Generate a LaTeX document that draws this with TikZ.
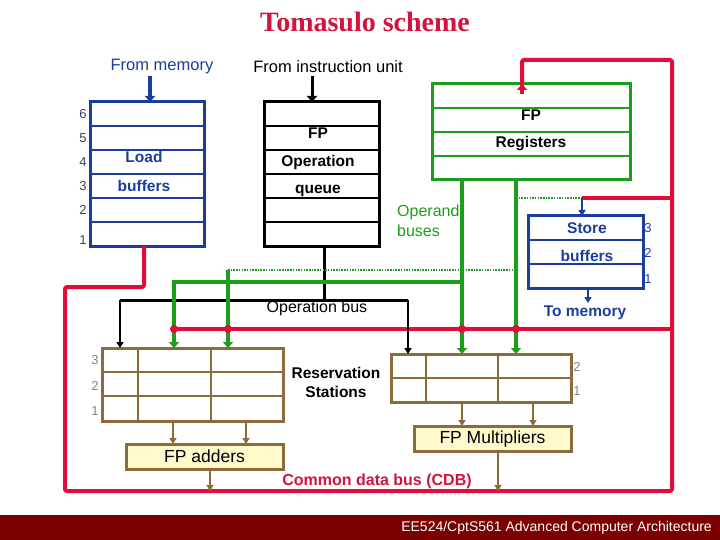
\documentclass[tikz,border=0pt]{standalone}
\usepackage{fontspec}
\setmainfont{Liberation Sans}
\newfontfamily\titlefont{Liberation Serif}
\usetikzlibrary{arrows.meta}
\definecolor{cred}{HTML}{E20C3C}
\definecolor{tred}{HTML}{D3123F}
\definecolor{cgreen}{HTML}{1C9E1C}
\definecolor{cblue}{HTML}{1B3D9C}
\definecolor{cbrown}{HTML}{8C6A3C}
\definecolor{cyell}{HTML}{FFF9CC}
\definecolor{cfoot}{HTML}{7A0000}
\definecolor{cnum}{HTML}{3C4060}
\definecolor{cgray}{HTML}{858585}
\begin{document}
\begin{tikzpicture}[x=1pt,y=-1pt,
  box/.style={draw=#1, line width=3pt, inner sep=0pt},
  rowline/.style={draw=#1, line width=2.5pt},
  lbl/.style={inner sep=0pt, font=\fontsize{15.5}{18}\selectfont\bfseries},
  reg/.style={inner sep=0pt, font=\fontsize{16}{19}\selectfont},
  num/.style={inner sep=0pt, font=\fontsize{13}{15}\selectfont},
  tip/.style={-{Triangle[length=6pt,width=10pt]}},
  stip/.style={-{Triangle[length=6pt,width=7pt]}},
  redw/.style={draw=cred, line width=4pt, line join=round},
  greenw/.style={draw=cgreen, line width=4pt},
  hatch/.style={draw=cgreen, line width=2.5pt, dash pattern=on 1.5pt off 1.2pt},
  blackw/.style={draw=black, line width=3pt},
  brownw/.style={draw=cbrown, line width=2pt},
  dot/.style={circle, fill=cred, inner sep=0pt, minimum size=8pt}
]
\useasboundingbox (0,0) rectangle (720,540);
% footer
\fill[cfoot] (0,515) rectangle (720,540);
\node[anchor=east, inner sep=0pt, text=white, font=\fontsize{14}{16}\selectfont] (foot) at (712,528) {EE524/CptS561 Advanced Computer Architecture};
% title
\node[inner sep=0pt, text=tred, font=\titlefont\fontsize{28}{31}\selectfont\bfseries] (title) at (365,22) {Tomasulo scheme};
\node[reg, text=cblue, font=\fontsize{16.5}{19}\selectfont] (frommem) at (162,67) {From memory};
\node[reg, font=\fontsize{16.5}{19}\selectfont] (fromiu) at (328,67) {From instruction unit};

% boxes
\node[box=cblue, minimum width=114pt, minimum height=144pt] (lb) at (147,174) {};
\node[box=black, minimum width=115pt, minimum height=144pt] (oq) at (321.5,174) {};
\node[box=cgreen, minimum width=198pt, minimum height=96pt] (rf) at (531,132) {};
\node[box=cblue, minimum width=115pt, minimum height=72pt] (sb) at (585.5,252) {};
\node[box=cbrown, minimum width=181pt, minimum height=73pt] (ars) at (192.5,384.5) {};
\node[box=cbrown, minimum width=180pt, minimum height=48pt] (mrs) at (481,378) {};
\node[box=cbrown, fill=cyell, minimum width=157pt, minimum height=25pt, font=\fontsize{17.5}{20}\selectfont] (fpa) at (204.5,456.5) {FP adders};
\node[box=cbrown, fill=cyell, minimum width=157pt, minimum height=25pt, font=\fontsize{17.5}{20}\selectfont] (fpm) at (492.5,438.5) {FP Multipliers};

% row lines
\foreach \y in {126,150,174,198,222} {
  \draw[rowline=cblue] (90,\y) -- (204,\y);
  \draw[rowline=black] (264,\y) -- (379,\y);
}
\foreach \y in {108,132,156} \draw[rowline=cgreen] (432,\y) -- (630,\y);
\foreach \y in {240,264} \draw[rowline=cblue] (528,\y) -- (643,\y);
\foreach \y in {372,396} \draw[rowline=cbrown] (102,\y) -- (283,\y);
\foreach \x in {138,211} \draw[rowline=cbrown] (\x,348) -- (\x,421);
\draw[rowline=cbrown] (391,378) -- (571,378);
\foreach \x in {426,498} \draw[rowline=cbrown] (\x,354) -- (\x,402);

% box texts
\node[lbl, text=cblue] (t1) at (144,157) {Load};
\node[lbl, text=cblue] (t2) at (144,186) {buffers};
\node[lbl] (t3) at (318,133) {FP};
\node[lbl] (t4) at (318,162) {Operation};
\node[lbl] (t5) at (318,191) {queue};
\node[lbl] (t6) at (531,115) {FP};
\node[lbl] (t7) at (531,144) {Registers};
\node[lbl, text=cblue] (t8) at (587,228) {Store};
\node[lbl, text=cblue] (t9) at (587,256) {buffers};
\node[reg, text=cgreen, anchor=west] (t10) at (397,212) {Operand};
\node[reg, text=cgreen, anchor=west] (t11) at (397,231) {buses};
\node[reg] (t12) at (317,308) {Operation bus};
\node[lbl, text=cblue] (t13) at (585,313) {To memory};
\node[lbl] (t14) at (336,373) {Reservation};
\node[lbl] (t15) at (336,392) {Stations};
\node[lbl, text=tred, font=\fontsize{16}{19}\selectfont\bfseries] (t16) at (377,481) {Common data bus (CDB)};

% numbers
\foreach \n/\y in {6/114,5/138,4/162,3/186,2/210,1/240} \node[num, text=cnum] (ln\n) at (83,\y) {\n};
\foreach \n/\y in {3/228,2/253,1/279} \node[num, text=cblue] (sn\n) at (648,\y) {\n};
\foreach \n/\y in {3/360,2/386,1/411} \node[num, text=cgray] (an\n) at (95,\y) {\n};
\foreach \n/\y in {2/367,1/391} \node[num, text=cgray] (mn\n) at (577,\y) {\n};

% coordinates
\coordinate (lbout) at (144,246);
\coordinate (c1) at (144,287);
\coordinate (c2) at (65,287);
\coordinate (c3) at (65,491);
\coordinate (c4) at (672,491);
\coordinate (c5) at (672,60);
\coordinate (c6) at (522,60);
\coordinate (rfin) at (522,84);
\coordinate (cdbl) at (174,329);
\coordinate (cdbr) at (672,329);
\coordinate (sbr) at (672,198);
\coordinate (sbc) at (582,198);
\coordinate (sbin) at (582,216);

% red CDB
\draw[redw, rounded corners=2pt] (lbout) -- (c1) -- (c2) -- (c3) -- (c4) -- (c5) -- (c6) -- ([yshift=-8pt]rfin);
\draw[cred, line width=4pt, tip] ([yshift=-10pt]rfin) -- (rfin);
\draw[redw] (cdbl) -- (cdbr);
\draw[redw] (sbr) -- (sbc);
\draw[hatch] (516,198) -- (sbc);
\draw[cblue, line width=2.5pt, stip] (sbc) -- (sbin);

% from memory / instruction unit
\draw[cblue, line width=4pt, tip] (150,76) -- (150,102);
\draw[black, line width=3pt, tip] (312,76) -- (312,102);

% operation bus
\coordinate (ob0) at (324,300);
\coordinate (obl) at (120,300);
\coordinate (obr) at (408,300);
\draw[blackw] (324,246) -- (ob0);
\draw[blackw] (obl) -- (obr);
\draw[black, line width=2.5pt, stip] (obl) -- (120,348);
\draw[black, line width=2.5pt, stip] (obr) -- (408,354);

% operand buses
\draw[hatch] (228,270) -- (516,270);
\draw[greenw, tip] (462,180) -- (462,354);
\draw[greenw, tip] (516,180) -- (516,354);
\draw[greenw, tip] (462,282) -- (174,282) -- (174,348);
\draw[greenw, tip] (228,270) -- (228,348);

% CDB dots
\foreach \x/\k in {174/a,228/b,462/c,516/d} \node[dot] (d\k) at (\x,329) {};

% brown arrows
\draw[brownw, stip] (173,421) -- (173,444);
\draw[brownw, stip] (246,421) -- (246,444);
\draw[brownw, stip] (210,469) -- (210,491);
\draw[brownw, stip] (462,402) -- (462,426);
\draw[brownw, stip] (533,402) -- (533,426);
\draw[brownw, stip] (498,451) -- (498,491);

% to memory
\draw[cblue, line width=2.5pt, stip] (588,288) -- (588,303);
\end{tikzpicture}
\end{document}
